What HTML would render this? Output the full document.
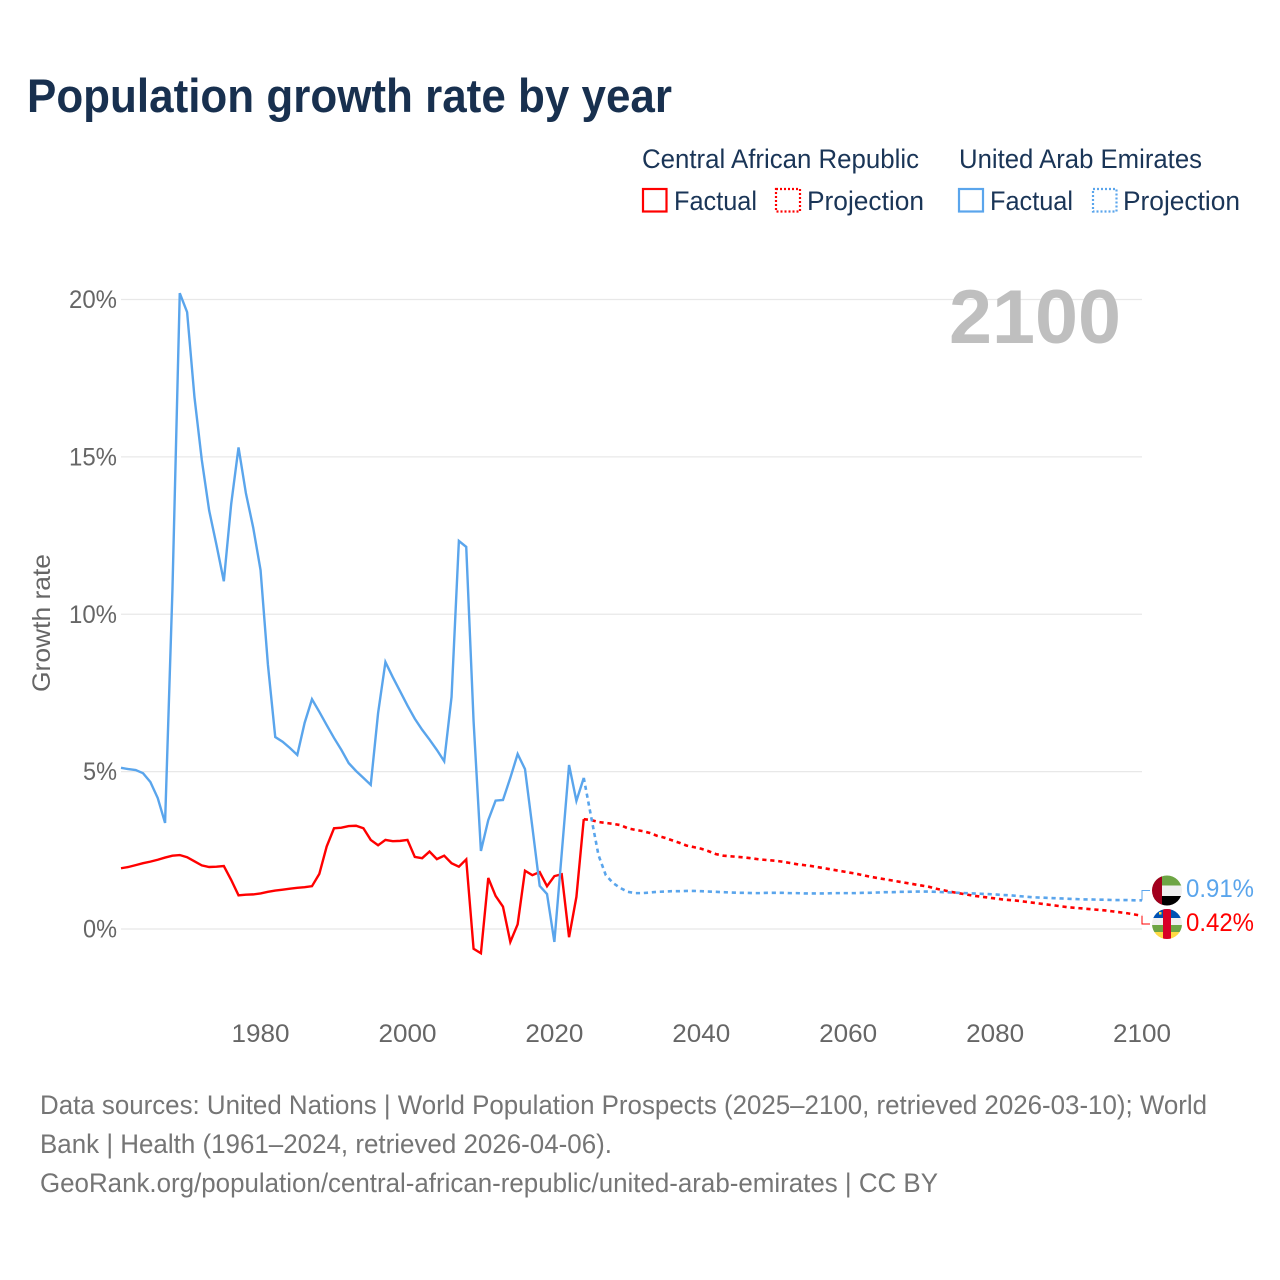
<!DOCTYPE html>
<html lang="en">
<head>
<meta charset="utf-8">
<title>Population growth rate by year</title>
<style>
html,body{margin:0;padding:0;background:#fff;}
svg{display:block;font-family:"Liberation Sans",Arial,sans-serif;}
</style>
</head>
<body>
<svg id="chart" xmlns="http://www.w3.org/2000/svg" width="1280" height="1280" viewBox="0 0 1280 1280">
  <rect width="1280" height="1280" fill="#ffffff"/>
  <text x="27" y="112" font-size="47" font-weight="700" fill="#18304f" textLength="645" lengthAdjust="spacingAndGlyphs">Population growth rate by year</text>

  <g fill="#1a3557" font-size="27">
    <text x="642" y="168" textLength="277" lengthAdjust="spacingAndGlyphs">Central African Republic</text>
    <text x="959" y="168" textLength="243" lengthAdjust="spacingAndGlyphs">United Arab Emirates</text>
    <rect x="643" y="189" width="23.5" height="22.5" fill="none" stroke="#ff0000" stroke-width="2.2"/>
    <text x="674" y="210" textLength="83" lengthAdjust="spacingAndGlyphs">Factual</text>
    <rect x="776" y="189" width="24" height="22.5" fill="none" stroke="#ff0000" stroke-width="2.2" stroke-dasharray="2 2"/>
    <text x="807" y="210" textLength="117" lengthAdjust="spacingAndGlyphs">Projection</text>
    <rect x="959" y="189" width="24" height="22.5" fill="none" stroke="#5aa5ec" stroke-width="2.2"/>
    <text x="990" y="210" textLength="83" lengthAdjust="spacingAndGlyphs">Factual</text>
    <rect x="1093" y="189" width="23.5" height="22.5" fill="none" stroke="#5aa5ec" stroke-width="2.2" stroke-dasharray="2 2"/>
    <text x="1123" y="210" textLength="117" lengthAdjust="spacingAndGlyphs">Projection</text>
  </g>

  <text transform="translate(50,692) rotate(-90)" font-size="25" fill="#666666" textLength="138" lengthAdjust="spacingAndGlyphs">Growth rate</text>
  <g id="grid"></g>
  <g id="yticks"></g>
  <g id="xticks"></g>

  <text x="949" y="343" font-size="76" font-weight="700" fill="#bfbfbf" textLength="172" lengthAdjust="spacingAndGlyphs">2100</text>

  <g id="series"></g>
  <g id="end-markers"></g>

  <defs>
    <clipPath id="clip-uae"><circle cx="1167" cy="890.5" r="15"/></clipPath>
    <clipPath id="clip-car"><circle cx="1167" cy="924" r="15"/></clipPath>
  </defs>
  <g clip-path="url(#clip-uae)">
    <rect x="1152" y="875" width="30" height="11" fill="#6da544"/>
    <rect x="1152" y="885.5" width="30" height="10.5" fill="#f0f0f0"/>
    <rect x="1152" y="896" width="30" height="11" fill="#000000"/>
    <rect x="1152" y="875" width="10" height="31" fill="#a2001d"/>
  </g>
  <g clip-path="url(#clip-car)">
    <rect x="1152" y="909" width="30" height="9" fill="#0052b4"/>
    <rect x="1152" y="918" width="30" height="7" fill="#f0f0f0"/>
    <rect x="1152" y="925" width="30" height="7" fill="#6da544"/>
    <rect x="1152" y="932" width="30" height="8" fill="#ffda44"/>
    <rect x="1163" y="909" width="8" height="31" fill="#d80027"/>
    <rect x="1159" y="912" width="2.5" height="2.5" fill="#ffda44"/>
  </g>

  <text x="1186" y="897" font-size="25" fill="#5aa5ec" textLength="68" lengthAdjust="spacingAndGlyphs">0.91%</text>
  <text x="1186" y="931" font-size="25" fill="#ff0000" textLength="68" lengthAdjust="spacingAndGlyphs">0.42%</text>

  <g font-size="27" fill="#757575">
    <text x="40" y="1114" textLength="1167" lengthAdjust="spacingAndGlyphs">Data sources: United Nations | World Population Prospects (2025–2100, retrieved 2026-03-10); World</text>
    <text x="40" y="1153" textLength="572" lengthAdjust="spacingAndGlyphs">Bank | Health (1961–2024, retrieved 2026-04-06).</text>
    <text x="40" y="1192" textLength="898" lengthAdjust="spacingAndGlyphs">GeoRank.org/population/central-african-republic/united-arab-emirates | CC BY</text>
  </g>
</svg>
<script>
var xTickYears = [1980, 2000, 2020, 2040, 2060, 2080, 2100];
var yTickValues = [0, 5, 10, 15, 20];
var factualStartYear = 1961;
var projectionStartYear = 2024;
var uaeFactual = [
  5.12, 5.08, 5.05, 4.95, 4.67, 4.16, 3.37, 10.75, 20.2,
  19.6, 16.9, 14.9, 13.3, 12.2, 11.05, 13.5, 15.3, 13.85, 12.75,
  11.4, 8.4, 6.1, 5.95, 5.75, 5.53, 6.55, 7.3, 6.9, 6.48,
  6.07, 5.69, 5.27, 5.02, 4.8, 4.58, 6.86, 8.48, 8.0, 7.55,
  7.1, 6.68, 6.33, 6.02, 5.69, 5.33, 7.37, 12.33, 12.14, 6.6,
  2.48, 3.46, 4.08, 4.1, 4.8, 5.56, 5.08, 3.24, 1.37, 1.11,
  -0.41, 2.4, 5.21, 4.07, 4.8
];
var carFactual = [
  1.93, 1.97, 2.03, 2.09, 2.14, 2.2, 2.27, 2.33, 2.35,
  2.28, 2.15, 2.02, 1.97, 1.98, 2.0, 1.56, 1.07, 1.09, 1.1,
  1.13, 1.18, 1.22, 1.25, 1.28, 1.31, 1.33, 1.36, 1.75, 2.62,
  3.2, 3.22, 3.27, 3.28, 3.2, 2.83, 2.66, 2.83, 2.79, 2.8,
  2.83, 2.29, 2.25, 2.46, 2.22, 2.33, 2.09, 1.98, 2.21, -0.63,
  -0.77, 1.62, 1.05, 0.71, -0.41, 0.15, 1.85, 1.71, 1.81, 1.36,
  1.68, 1.74, -0.26, 1.02, 3.49
];
var uaeProjection = [
  4.8, 3.57, 2.35, 1.71, 1.46, 1.3,
  1.18, 1.14, 1.14, 1.16, 1.18, 1.19, 1.2, 1.2, 1.21, 1.21,
  1.2, 1.19, 1.18, 1.17, 1.16, 1.15, 1.15, 1.14, 1.14, 1.15,
  1.15, 1.15, 1.14, 1.14, 1.13, 1.13, 1.13, 1.13, 1.14, 1.14,
  1.14, 1.14, 1.15, 1.15, 1.16, 1.17, 1.17, 1.18, 1.18, 1.19,
  1.19, 1.19, 1.18, 1.17, 1.16, 1.15, 1.14, 1.13, 1.12, 1.11,
  1.1, 1.08, 1.07, 1.05, 1.03, 1.01, 1.0, 0.99, 0.98, 0.97,
  0.96, 0.95, 0.94, 0.94, 0.93, 0.93, 0.92, 0.92, 0.92, 0.91,
  0.91
];
var carProjection = [
  3.49, 3.46, 3.4, 3.37, 3.34, 3.3,
  3.2, 3.15, 3.11, 3.05, 2.96, 2.9, 2.82, 2.74, 2.65, 2.6,
  2.55, 2.47, 2.38, 2.33, 2.31, 2.29, 2.27, 2.24, 2.21, 2.19,
  2.17, 2.14, 2.1, 2.06, 2.03, 2.0, 1.96, 1.92, 1.88, 1.84,
  1.8, 1.76, 1.71, 1.66, 1.62, 1.58, 1.54, 1.5, 1.46, 1.42,
  1.38, 1.34, 1.28, 1.23, 1.18, 1.14, 1.1, 1.06, 1.03, 1.0,
  0.97, 0.94, 0.92, 0.9, 0.87, 0.84, 0.81, 0.78, 0.75, 0.72,
  0.69, 0.67, 0.65, 0.63, 0.61, 0.59, 0.56, 0.53, 0.5, 0.46,
  0.42
];

var SVG_NS = 'http://www.w3.org/2000/svg';
function xScale(year) { return 121 + (year - 1961) * (1142 - 121) / (2100 - 1961); }
function yScale(value) { return 929 - value * (929 - 299.5) / 20; }

function make(tag, parent, attrs) {
  var el = document.createElementNS(SVG_NS, tag);
  for (var k in attrs) { el.setAttribute(k, attrs[k]); }
  parent.appendChild(el);
  return el;
}

function pathFrom(values, startYear) {
  var d = '';
  for (var i = 0; i < values.length; i++) {
    d += (i === 0 ? 'M' : 'L') + xScale(startYear + i).toFixed(2) + ' ' + yScale(values[i]).toFixed(2);
  }
  return d;
}

var gridGroup = document.getElementById('grid');
var yTickGroup = document.getElementById('yticks');
var xTickGroup = document.getElementById('xticks');
var seriesGroup = document.getElementById('series');
var markerGroup = document.getElementById('end-markers');

yTickValues.forEach(function (v) {
  var line = make('line', gridGroup, { x1: xScale(1961), x2: xScale(2100), y1: yScale(v), y2: yScale(v), stroke: '#e8e8e8', 'stroke-width': 1.3 });
  
  
  var label = make('text', yTickGroup, { x: 117, y: yScale(v) + 8.5, 'font-size': 25, fill: '#666666', 'text-anchor': 'end', textLength: v >= 10 ? 48 : 34, lengthAdjust: 'spacingAndGlyphs' });
  
  
  label.textContent = v + '%';
});

xTickYears.forEach(function (yr) {
  var label = make('text', xTickGroup, { x: xScale(yr), y: 1042, 'font-size': 25, fill: '#666666', 'text-anchor': 'middle', textLength: 58, lengthAdjust: 'spacingAndGlyphs' });
  
  
  label.textContent = yr;
});

var lineAttrs = { fill: 'none', 'stroke-linejoin': 'miter' };
function drawLine(values, startYear, color, dashed) {
  var p = make('path', seriesGroup, lineAttrs);
  p.setAttribute('d', pathFrom(values, startYear));
  p.setAttribute('stroke', color);
  p.setAttribute('stroke-width', dashed ? 2.6 : 2.4);
  if (dashed) { p.setAttribute('stroke-dasharray', '4.2 3.8'); }
  return p;
}

var carFactualLine = drawLine(carFactual, factualStartYear, '#ff0000', false);


var carProjectionLine = drawLine(carProjection, projectionStartYear, '#ff0000', true);


var uaeFactualLine = drawLine(uaeFactual, factualStartYear, '#5aa5ec', false);


var uaeProjectionLine = drawLine(uaeProjection, projectionStartYear, '#5aa5ec', true);



function connector(value, targetY, color) {
  var x = xScale(2100), y = yScale(value);
  var p = make('path', markerGroup, { fill: 'none', 'stroke-width': 1 });
  p.setAttribute('d', 'M' + x + ' ' + y + 'V' + targetY + 'H1150');
  p.setAttribute('stroke', color);
  return p;
}
var uaeConnector = connector(uaeProjection[uaeProjection.length - 1], 890.5, '#5aa5ec');


var carConnector = connector(carProjection[carProjection.length - 1], 924, '#ff0000');


</script>
</body>
</html>
